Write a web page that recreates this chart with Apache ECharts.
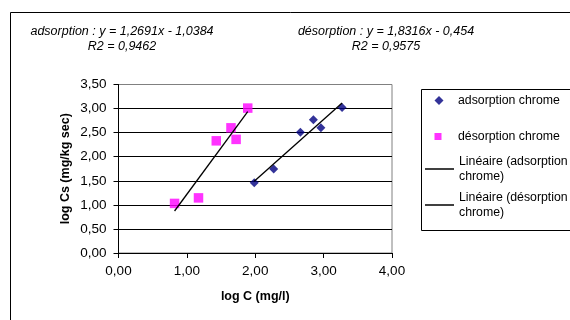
<!DOCTYPE html>
<html>
<head>
<meta charset="utf-8">
<script src="https://cdn.jsdelivr.net/npm/echarts@6/dist/echarts.min.js"></script>
<style>
html,body{margin:0;padding:0;background:#fff;}
#chart{width:570px;height:320px;}
</style>
</head>
<body>
<div id="chart"></div>
<script>
// ---- data ----
var adsX = [1.985, 2.27, 2.66, 2.85, 2.96, 3.27];
var adsY = [1.46, 1.745, 2.51, 2.77, 2.60, 3.02];
var desX = [0.82, 1.17, 1.43, 1.645, 1.72, 1.89];
var desY = [1.03, 1.145, 2.33, 2.60, 2.36, 3.01];
var seriesNames = ['adsorption chrome', 'désorption chrome', 'Linéaire (adsorption chrome)', 'Linéaire (désorption chrome)'];
var eqTexts = ['adsorption : y = 1,2691x - 1,0384\nR2 = 0,9462', 'désorption : y = 1,8316x - 0,454\nR2 = 0,9575'];
var xTitle = 'log C (mg/l)';
var yTitle = 'log Cs (mg/kg sec)';

function pairs(xs, ys) { return xs.map(function (x, i) { return [x, ys[i]]; }); }
function trend(xs, ys) {
  var n = xs.length, mx = 0, my = 0;
  for (var i = 0; i < n; i++) { mx += xs[i]; my += ys[i]; }
  mx /= n; my /= n;
  var sxy = 0, sxx = 0;
  for (var j = 0; j < n; j++) { sxy += (xs[j] - mx) * (ys[j] - my); sxx += (xs[j] - mx) * (xs[j] - mx); }
  var b = sxy / sxx, a = my - b * mx;
  var x0 = Math.min.apply(null, xs), x1 = Math.max.apply(null, xs);
  return [[x0, a + b * x0], [x1, a + b * x1]];
}
function fmt(v) { return v.toFixed(2).replace('.', ','); }

var FONT = '"Liberation Sans", Arial, sans-serif';
var chart = echarts.init(document.getElementById('chart'), null, {renderer: 'canvas'});

function legendItem(name, top, left, icon, w, h, padLeft, twoLine) {
  var lg = {
    data: [{name: name, icon: icon}],
    orient: 'vertical', left: left, top: top, padding: 0,
    itemWidth: w, itemHeight: h, selectedMode: false,
    textStyle: {fontFamily: FONT, fontSize: 12.3, color: '#000', lineHeight: 15,
      padding: twoLine ? [15, 0, 0, padLeft] : [0, 0, 0, padLeft]},
    formatter: function (n) { return twoLine ? n.replace(' chrome)', '\nchrome)') : n; }
  };
  if (icon === 'rect' && twoLine) lg.itemStyle = {color: '#000', borderWidth: 0};
  return lg;
}

var option = {
  animation: false,
  backgroundColor: '#fff',
  textStyle: {fontFamily: FONT},
  title: [
    {text: eqTexts[0], left: 122, top: 24.5, textAlign: 'center',
     textStyle: {fontFamily: FONT, fontSize: 12.5, fontStyle: 'italic', fontWeight: 'normal', color: '#000', lineHeight: 15}, padding: 0},
    {text: eqTexts[1], left: 386, top: 24.5, textAlign: 'center',
     textStyle: {fontFamily: FONT, fontSize: 12.5, fontStyle: 'italic', fontWeight: 'normal', color: '#000', lineHeight: 15}, padding: 0}
  ],
  legend: [
    legendItem(seriesNames[0], 93, 434.5, 'diamond', 9, 9, 9.5, false),
    legendItem(seriesNames[1], 129, 434.5, 'rect', 7, 7, 11.5, false),
    legendItem(seriesNames[2], 146.5, 425, 'rect', 29, 1.5, 0, true),
    legendItem(seriesNames[3], 182.5, 425, 'rect', 29, 1.5, 0, true)
  ],
  graphic: [
    {type: 'rect', shape: {x: 10.5, y: 12.5, width: 700, height: 500}, style: {fill: null, stroke: '#000', lineWidth: 1}, silent: true, z: 100},
    {type: 'rect', shape: {x: 421.5, y: 89.5, width: 300, height: 141}, style: {fill: null, stroke: '#000', lineWidth: 1}, silent: true, z: 100}
  ],
  grid: {left: 118.5, right: 178, top: 84.5, bottom: 67, show: true, borderColor: '#808080', borderWidth: 1, backgroundColor: '#fff'},
  xAxis: {
    type: 'value', min: 0, max: 4, interval: 1,
    name: xTitle, nameLocation: 'middle', nameGap: 37,
    nameTextStyle: {fontFamily: FONT, fontSize: 12.5, fontWeight: 'bold', color: '#000'},
    axisLine: {show: true, lineStyle: {color: '#000', width: 1}},
    axisTick: {show: true, inside: false, length: 5, lineStyle: {color: '#000'}},
    axisLabel: {formatter: fmt, fontFamily: FONT, fontSize: 13.5, color: '#000', margin: 11},
    splitLine: {show: false}
  },
  yAxis: {
    type: 'value', min: 0, max: 3.5, interval: 0.5,
    name: yTitle, nameLocation: 'middle', nameGap: 46,
    nameTextStyle: {fontFamily: FONT, fontSize: 12.5, fontWeight: 'bold', color: '#000'},
    axisLine: {show: true, lineStyle: {color: '#000', width: 1}},
    axisTick: {show: true, inside: false, length: 5, lineStyle: {color: '#000'}},
    axisLabel: {formatter: fmt, fontFamily: FONT, fontSize: 13.5, color: '#000', margin: 12},
    splitLine: {show: true, lineStyle: {color: ['#000', '#000', '#000', '#000', '#000', '#000', '#000', '#808080'], width: 1}}
  },
  series: [
    {name: seriesNames[0], type: 'scatter', data: pairs(adsX, adsY), symbol: 'diamond', symbolSize: 9,
     itemStyle: {color: '#000080'}, z: 3},
    {name: seriesNames[1], type: 'scatter', data: pairs(desX, desY), symbol: 'rect', symbolSize: 9.5,
     itemStyle: {color: '#FF00FF'}, z: 3},
    {name: seriesNames[2], type: 'line', data: trend(adsX, adsY), showSymbol: false, symbol: 'none',
     lineStyle: {color: '#000', width: 1.3}, itemStyle: {color: '#000'}, z: 5},
    {name: seriesNames[3], type: 'line', data: trend(desX, desY), showSymbol: false, symbol: 'none',
     lineStyle: {color: '#000', width: 1.3}, itemStyle: {color: '#000'}, z: 5}
  ]
};
chart.setOption(option);
</script>
</body>
</html>
